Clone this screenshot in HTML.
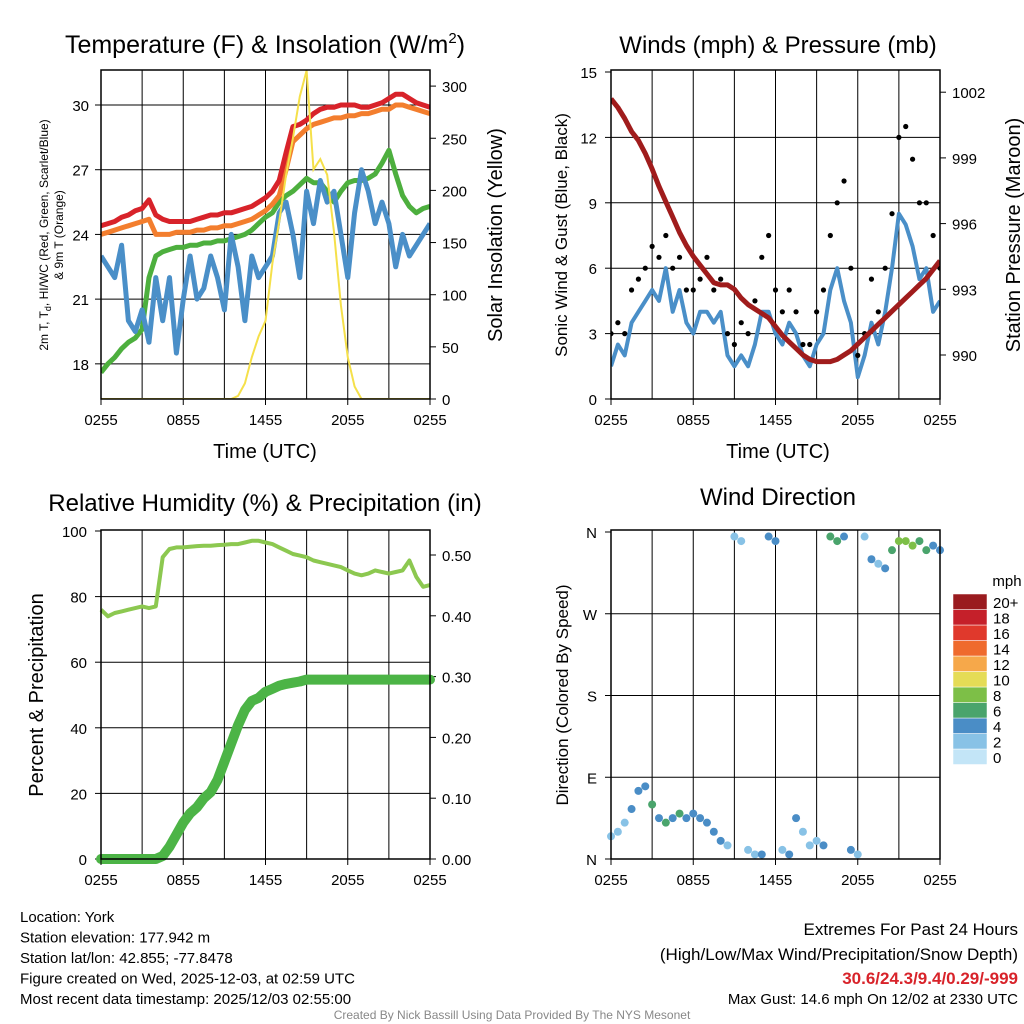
<!DOCTYPE html>
<html><head><meta charset="utf-8"><style>
html,body{margin:0;padding:0;background:#fff;}
svg{display:block;font-family:"Liberation Sans",sans-serif;}
</style></head><body>
<svg id="c" width="1024" height="1024" viewBox="0 0 1024 1024"></svg>
<script>
// ---------- data ----------
const hours = [];
for (let i = 0; i <= 48; i++) hours.push(i / 2);
const xTickLabels = ["0255","0855","1455","2055","0255"];
const tempTicks = [18,21,24,27,30];
const solarTicks = [0,50,100,150,200,250,300];
const windTicks = [0,3,6,9,12,15];
const presTicks = [990,993,996,999,1002];
const rhTicks = [0,20,40,60,80,100];
const precipTicks = [0,0.1,0.2,0.3,0.4,0.5];
const dirTickLabels = ["N","E","S","W","N"];
const speedBins = ["0","2","4","6","8","10","12","14","16","18","20+"];
const speedColors = ["#c3e5f7","#88c2e6","#4a8dc6","#4aa46c","#7dbf47","#e5dc56","#f6a84a","#ef6a2d","#e0392c","#c5202a","#9a1b1f"];

const tempRed = [24.4,24.5,24.6,24.8,24.9,25.1,25.2,25.6,24.9,24.7,24.6,24.6,24.6,24.6,24.7,24.8,24.9,24.9,25.0,25.0,25.1,25.2,25.3,25.5,25.7,26.0,26.5,27.8,29.0,29.1,29.3,29.6,29.8,29.9,29.9,30.0,30.0,30.0,29.9,29.9,30.0,30.1,30.3,30.5,30.5,30.3,30.1,30.0,29.9];
const tempOrange = [24.0,24.1,24.2,24.3,24.4,24.5,24.6,24.7,24.0,24.0,24.0,24.1,24.1,24.1,24.2,24.2,24.3,24.3,24.4,24.4,24.5,24.6,24.7,24.9,25.1,25.4,25.8,27.0,28.3,28.6,28.9,29.1,29.2,29.3,29.4,29.4,29.5,29.5,29.6,29.6,29.7,29.8,29.8,30.0,30.0,29.9,29.8,29.7,29.6];
const tempGreen = [17.6,18.0,18.3,18.7,19.0,19.2,19.6,22.0,23.0,23.2,23.3,23.4,23.4,23.5,23.5,23.6,23.6,23.7,23.7,23.8,23.9,24.0,24.2,24.5,24.8,25.0,25.5,25.8,26.0,26.3,26.6,26.4,26.4,26.0,25.5,26.0,26.4,26.5,26.5,26.6,26.8,27.3,27.9,26.8,25.8,25.3,25.0,25.2,25.3];
const tempBlue = [23.0,22.5,22.0,23.5,20.0,19.5,20.5,19.0,22.0,20.0,22.0,18.5,21.0,23.0,21.0,21.5,23.0,22.0,20.5,24.0,22.5,20.0,23.0,22.0,22.5,23.0,25.0,25.5,24.0,22.0,26.0,24.5,26.5,25.5,26.0,24.0,22.0,25.0,27.0,26.0,24.5,25.5,24.5,22.5,24.0,23.0,23.5,24.0,24.5];
const solar = [0,0,0,0,0,0,0,0,0,0,0,0,0,0,0,0,0,0,0,0,3,15,40,60,75,130,170,215,250,290,315,220,230,215,160,90,40,12,0,0,0,0,0,0,0,0,0,0,0];

const windSonic = [1.5,2.5,2.0,3.5,4.0,4.5,5.0,4.5,6.0,4.0,5.0,3.5,3.0,4.0,4.0,3.5,4.0,2.0,1.5,2.0,1.5,2.5,4.0,4.0,3.0,2.5,3.5,3.0,2.0,1.5,2.5,3.0,5.0,6.0,4.5,3.5,1.0,2.0,3.5,2.5,4.0,6.0,8.5,8.0,7.0,5.5,6.0,4.0,4.5];
const windGust = [3.0,3.5,3.0,5.0,5.5,6.0,7.0,6.5,7.5,6.0,6.5,5.0,5.0,5.5,6.5,5.0,5.5,3.0,2.5,3.5,3.0,4.5,6.5,7.5,5.0,4.0,5.0,4.0,2.5,2.5,4.0,5.0,7.5,9.0,10.0,6.0,2.0,3.0,5.5,4.0,6.0,8.5,12.0,12.5,11.0,9.0,9.0,7.5,6.0];
const pressure = [1001.7,1001.3,1000.8,1000.2,999.8,999.2,998.5,997.7,997.0,996.3,995.6,995.0,994.5,994.1,993.7,993.3,993.2,993.2,993.0,992.6,992.3,992.1,991.9,991.7,991.3,990.9,990.6,990.3,990.0,989.8,989.7,989.7,989.7,989.8,990.0,990.2,990.5,990.8,991.1,991.4,991.7,992.0,992.3,992.6,992.9,993.2,993.5,993.9,994.3];

const rh = [76,74,75,75.5,76,76.5,77,76.5,77,92,94.5,95,95,95.2,95.4,95.5,95.5,95.7,95.8,96,96,96.5,97,97,96.5,96,95,94,93,92.5,92,91,90.5,90,89.5,89,88,87,86.5,87,88,87.5,87,87.5,88,91,86,83,83.5];
const precip = [0,0,0,0,0,0,0,0,0,0.005,0.02,0.04,0.06,0.075,0.085,0.1,0.11,0.13,0.16,0.19,0.22,0.245,0.26,0.265,0.275,0.28,0.285,0.288,0.29,0.292,0.295,0.295,0.295,0.295,0.295,0.295,0.295,0.295,0.295,0.295,0.295,0.295,0.295,0.295,0.295,0.295,0.295,0.295,0.295];
const windDir = [25,30,40,55,75,80,60,45,40,45,50,45,50,45,40,30,20,15,355,350,10,5,5,355,350,10,5,45,30,15,20,15,355,350,355,10,5,355,330,325,320,340,350,350,345,350,340,345,340];

// ---------- helpers ----------
const NS = "http://www.w3.org/2000/svg";
const svg = document.getElementById("c");
function el(tag, attrs, parent) {
  const e = document.createElementNS(NS, tag);
  for (const k in attrs) e.setAttribute(k, attrs[k]);
  (parent || svg).appendChild(e);
  return e;
}
function txt(s, x, y, size, anchor, parent, extra) {
  const t = el("text", Object.assign({x:x, y:y, "font-size":size, "text-anchor":anchor||"middle", fill:"#000"}, extra||{}), parent);
  t.textContent = s;
  return t;
}
function lin(d0, d1, r0, r1) { return v => r0 + (v - d0) * (r1 - r0) / (d1 - d0); }
function pathFrom(xs, ys, sx, sy) {
  return xs.map((h, i) => (i ? "L" : "M") + sx(h).toFixed(1) + "," + sy(ys[i]).toFixed(1)).join("");
}
function frame(x0, y0, x1, y1, name, vlinesX, hlinesY) {
  const g = el("g", {});
  
  
  vlinesX.forEach(x => el("line", {x1:x, y1:y0, x2:x, y2:y1, stroke:"#000", "stroke-width":1}, g));
  hlinesY.forEach(y => el("line", {x1:x0, y1:y, x2:x1, y2:y, stroke:"#000", "stroke-width":1}, g));
  return g;
}
function border(x0, y0, x1, y1) {
  el("rect", {x:x0, y:y0, width:x1-x0, height:y1-y0, fill:"none", stroke:"#000", "stroke-width":1.5});
}
function xAxis(x0, x1, y1) {
  const g = el("g", {});
  
  
  xTickLabels.forEach((s, i) => {
    const x = x0 + (x1 - x0) * i / 4;
    el("line", {x1:x, y1:y1, x2:x, y2:y1+6, stroke:"#000"}, g);
    txt(s, x, y1 + 26, 15, "middle", g);
  });
}
function vgrid(x0, x1) { const a = []; for (let i = 1; i < 8; i++) a.push(x0 + (x1 - x0) * i / 8); return a; }

// ---------- Panel 1 ----------
{
  const X0 = 101, X1 = 430, Y0 = 70, Y1 = 399;
  const sx = lin(0, 24, X0, X1);
  const sy = v => 105 + (30 - v) * 21.57;
  const ss = v => 399 - v * 1.043;
  frame(X0, Y0, X1, Y1, "temp-grid", vgrid(X0, X1), tempTicks.map(sy));
  const gl = el("g", {});
  
  
  tempTicks.forEach(t => { el("line",{x1:X0-6,y1:sy(t),x2:X0,y2:sy(t),stroke:"#000"},gl); txt(String(t), X0-12, sy(t)+6, 15, "end", gl); });
  const gr = el("g", {});
  
  
  solarTicks.forEach(t => { el("line",{x1:X1,y1:ss(t),x2:X1+6,y2:ss(t),stroke:"#000"},gr); txt(String(t), X1+12, ss(t)+6, 15, "start", gr); });
  const cp = el("clipPath", {id:"cp1"}); el("rect",{x:X0,y:Y0,width:X1-X0,height:Y1-Y0},cp);
  const series = [[tempGreen,"#4daf3e","green-line"],[tempBlue,"#4a8fc8","blue-line"],[tempOrange,"#f37e2e","orange-line"],[tempRed,"#d8232a","red-line"]];
  series.forEach(s => {
    const p = el("path", {d:pathFrom(hours, s[0], sx, sy), fill:"none", stroke:s[1], "stroke-width":5, "stroke-linejoin":"round", "clip-path":"url(#cp1)"});
    
    
  });
  const sp = el("path", {d:pathFrom(hours, solar, sx, ss), fill:"none", stroke:"#f5e04a", "stroke-width":2, "clip-path":"url(#cp1)"});
  
  
  border(X0, Y0, X1, Y1);
  xAxis(X0, X1, Y1);
  const t = txt("", 265, 53, 25, "middle");
  t.innerHTML = 'Temperature (F) &amp; Insolation (W/m<tspan dy="-10" font-size="15">2</tspan><tspan dy="10">)</tspan>';
  
  
  const xt = txt("Time (UTC)", 265, 458, 20);  
  const yl = el("text", {transform:"translate(48,235) rotate(-90)", "font-size":12, "text-anchor":"middle"});
  yl.innerHTML = '<tspan x="0" y="0">2m T, T<tspan font-size="9" dy="3">d</tspan><tspan dy="-3">, HI/WC (Red, Green, Scarlet/Blue)</tspan></tspan><tspan x="0" y="15">&amp; 9m T (Orange)</tspan>';
  
  
  const yr = txt("Solar Insolation (Yellow)", 0, 0, 20, "middle", null, {transform:"translate(502,235) rotate(-90)"});
   
}

// ---------- Panel 2 ----------
{
  const X0 = 611, X1 = 940, Y0 = 70, Y1 = 399;
  const sx = lin(0, 24, X0, X1);
  const sy = v => 399 - v * 21.8;
  const sp = v => 355 - (v - 990) * 21.9;
  frame(X0, Y0, X1, Y1, "wind-grid", vgrid(X0, X1), windTicks.slice(1,5).map(sy));
  const gl = el("g", {});
  
  
  windTicks.forEach(t => { el("line",{x1:X0-6,y1:sy(t),x2:X0,y2:sy(t),stroke:"#000"},gl); txt(String(t), X0-14, sy(t)+6, 15, "end", gl); });
  const gr = el("g", {});
  
  
  presTicks.forEach(t => { el("line",{x1:X1,y1:sp(t),x2:X1+6,y2:sp(t),stroke:"#000"},gr); txt(String(t), X1+12, sp(t)+6, 15, "start", gr); });
  const cp = el("clipPath", {id:"cp2"}); el("rect",{x:X0,y:Y0,width:X1-X0,height:Y1-Y0},cp);
  const w = el("path", {d:pathFrom(hours, windSonic, sx, sy), fill:"none", stroke:"#4a8fc8", "stroke-width":4, "stroke-linejoin":"round", "clip-path":"url(#cp2)"});
   
  const gg = el("g", {"clip-path":"url(#cp2)"});
  
  
  windGust.forEach((v, i) => {
    const c = el("circle", {cx:sx(hours[i]), cy:sy(v), r:2.6, fill:"#000"}, gg);
    
    
  });
  const p = el("path", {d:pathFrom(hours, pressure, sx, sp), fill:"none", stroke:"#a01c1c", "stroke-width":5, "stroke-linejoin":"round", "clip-path":"url(#cp2)"});
   
  border(X0, Y0, X1, Y1);
  xAxis(X0, X1, Y1);
  const t = txt("Winds (mph) & Pressure (mb)", 778, 53, 24);  
  const xt = txt("Time (UTC)", 778, 458, 20);  
  const yl = txt("Sonic Wind & Gust (Blue, Black)", 0, 0, 17, "middle", null, {transform:"translate(567,235) rotate(-90)"});
   
  const yr = txt("Station Pressure (Maroon)", 0, 0, 20, "middle", null, {transform:"translate(1020,235) rotate(-90)"});
   
}

// ---------- Panel 3 ----------
{
  const X0 = 101, X1 = 430, Y0 = 530, Y1 = 859;
  const sx = lin(0, 24, X0, X1);
  const sy = v => 859 - v * 3.28;
  const sq = v => 859 - v * 608;
  frame(X0, Y0, X1, Y1, "rh-grid", vgrid(X0, X1), rhTicks.slice(1,5).map(sy));
  const gl = el("g", {});
  
  
  rhTicks.forEach(t => { el("line",{x1:X0-6,y1:sy(t),x2:X0,y2:sy(t),stroke:"#000"},gl); txt(String(t), X0-14, sy(t)+6, 15, "end", gl); });
  const gr = el("g", {});
  
  
  precipTicks.forEach(t => { el("line",{x1:X1,y1:sq(t),x2:X1+6,y2:sq(t),stroke:"#000"},gr); txt(t.toFixed(2), X1+12, sq(t)+6, 15, "start", gr); });
  const cp = el("clipPath", {id:"cp3"}); el("rect",{x:X0-5,y:Y0,width:X1-X0+10,height:Y1-Y0+6},cp);
  const r = el("path", {d:pathFrom(hours, rh, sx, sy), fill:"none", stroke:"#8cc850", "stroke-width":4, "stroke-linejoin":"round", "clip-path":"url(#cp3)"});
   
  const q = el("path", {d:pathFrom(hours, precip, sx, sq), fill:"none", stroke:"#4cb446", "stroke-width":10, "stroke-linejoin":"round", "stroke-linecap":"round", "clip-path":"url(#cp3)"});
   
  border(X0, Y0, X1, Y1);
  xAxis(X0, X1, Y1);
  const t = txt("Relative Humidity (%) & Precipitation (in)", 265, 511, 24);  
  const yl = txt("Percent & Precipitation", 0, 0, 20, "middle", null, {transform:"translate(43,695) rotate(-90)"});
   
}

// ---------- Panel 4 ----------
{
  const X0 = 611, X1 = 940, Y0 = 530, Y1 = 859;
  const sx = lin(0, 24, X0, X1);
  const sd = v => 859 - v * (327 / 360);
  frame(X0, Y0, X1, Y1, "dir-grid", vgrid(X0, X1), [90,180,270].map(sd));
  const gl = el("g", {});
  
  
  dirTickLabels.forEach((s, i) => { const y = sd(i * 90); el("line",{x1:X0-6,y1:y,x2:X0,y2:y,stroke:"#000"},gl); txt(s, X0-14, y+6, 15, "end", gl); });
  const gp = el("g", {});
  
  
  windDir.forEach((d, i) => {
    const bin = Math.min(10, Math.max(0, Math.round(windSonic[i] / 2)));
    const c = el("circle", {cx:sx(hours[i]), cy:sd(d), r:4, fill:speedColors[bin]}, gp);
    
    
  });
  border(X0, Y0, X1, Y1);
  xAxis(X0, X1, Y1);
  const t = txt("Wind Direction", 778, 505, 24);  
  const yl = txt("Direction (Colored By Speed)", 0, 0, 17, "middle", null, {transform:"translate(568,695) rotate(-90)"});
   
  const cb = el("g", {});
  
  
  const bh = 15.5, top = 594;
  speedBins.forEach((s, i) => {
    const y = top + (10 - i) * bh;
    el("rect", {x:953, y:y, width:34, height:bh, fill:speedColors[i], stroke:"#fff", "stroke-width":0.5}, cb);
    txt(s, 993, y + bh/2 + 6, 15, "start", cb);
  });
  txt("mph", 1007, 586, 15, "middle", cb);
}

// ---------- Footer text ----------
{
  const g = el("g", {});
  
  
  ["Location: York","Station elevation: 177.942 m","Station lat/lon: 42.855; -77.8478","Figure created on Wed, 2025-12-03, at 02:59 UTC","Most recent data timestamp: 2025/12/03 02:55:00"].forEach((s,i)=>txt(s, 20, 922 + i*20.5, 15, "start", g));
  const r = el("g", {});
  
  
  txt("Extremes For Past 24 Hours", 1018, 935, 17, "end", r);
  txt("(High/Low/Max Wind/Precipitation/Snow Depth)", 1018, 960, 17, "end", r);
  txt("30.6/24.3/9.4/0.29/-999", 1018, 984, 17, "end", r, {fill:"#d8232a","font-weight":"bold"});
  txt("Max Gust: 14.6 mph On 12/02 at 2330 UTC", 1018, 1004, 15, "end", r);
  const f = txt("Created By Nick Bassill Using Data Provided By The NYS Mesonet", 512, 1019, 12, "middle", null, {fill:"#888"});
   
}
</script>
</body></html>
